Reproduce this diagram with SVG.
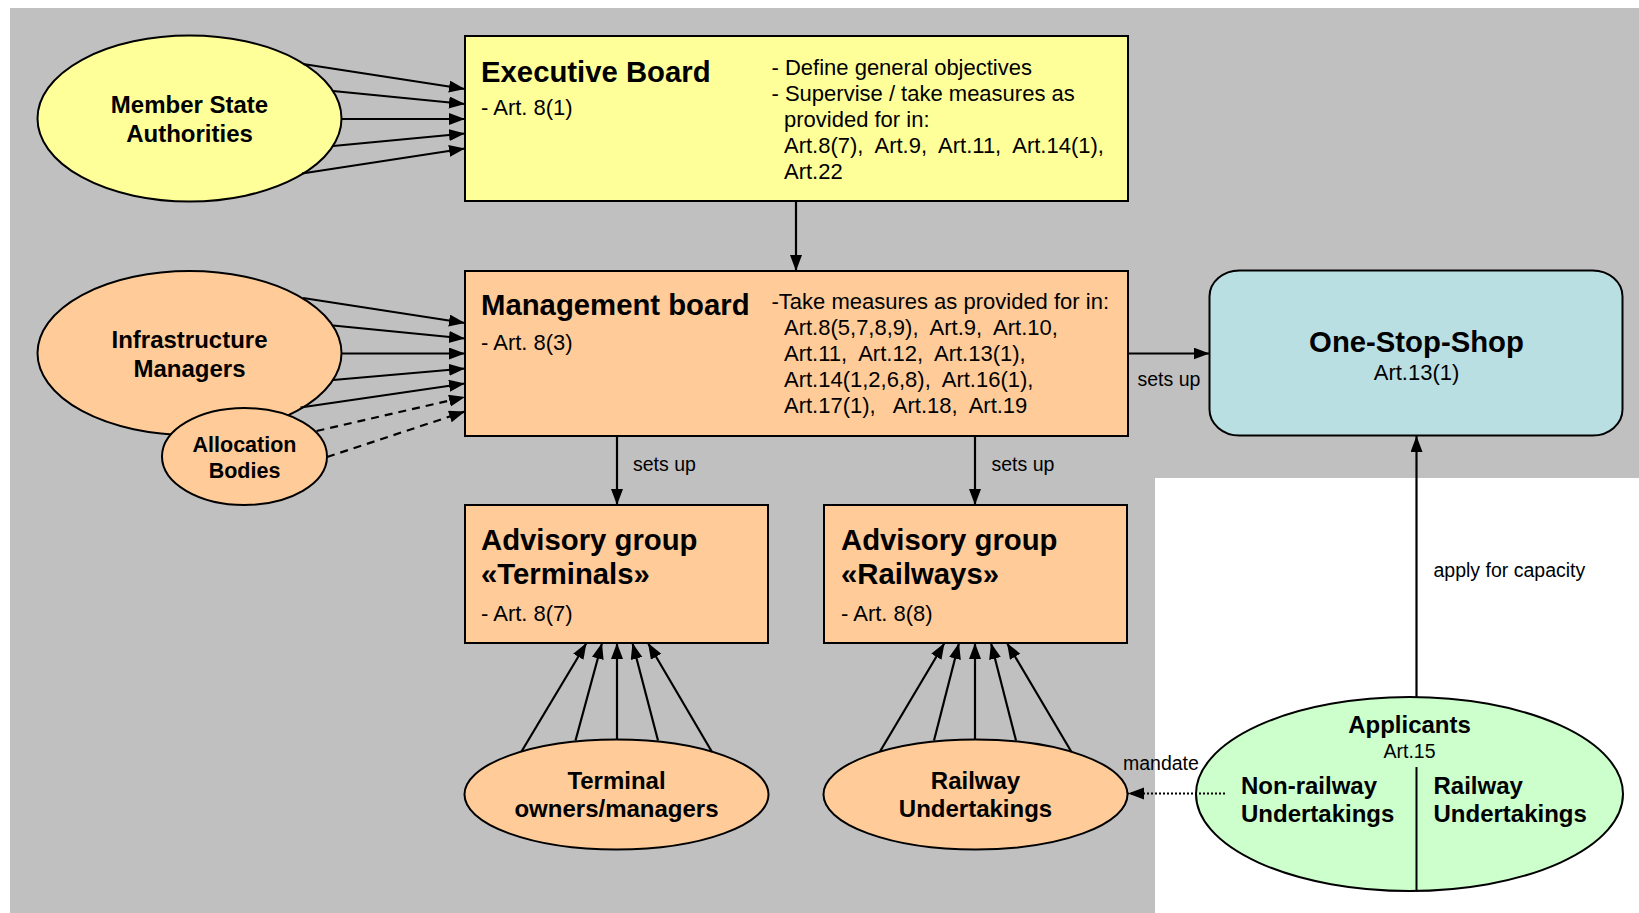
<svg xmlns="http://www.w3.org/2000/svg" width="1639" height="913" viewBox="0 0 1639 913">
  <style>
    text { font-family: "Liberation Sans", Arial, sans-serif; fill: #000; white-space: pre; }
    .title { font-size: 29.3px; font-weight: bold; }
    .body { font-size: 22px; }
    .name { font-size: 24px; font-weight: bold; text-anchor: middle; }
    .part { font-size: 24px; font-weight: bold; }
    .small { font-size: 21.5px; font-weight: bold; text-anchor: middle; }
    .lbl { font-size: 19.5px; }
    .mid { text-anchor: middle; }
    .box { stroke: #000; stroke-width: 2; }
    .yellow { fill: #ffff99; }
    .peach { fill: #ffcc99; }
    .blue { fill: #b9dfe3; }
    .green { fill: #ccffcc; }
    .edge { stroke: #000; stroke-width: 2.2; fill: none; marker-end: url(#arrow); }
    .dash { stroke-dasharray: 8 6; }
    .dot { stroke-dasharray: 2 2; }
  </style>
  <defs>
    <marker id="arrow" markerUnits="userSpaceOnUse" markerWidth="17" markerHeight="13" refX="16" refY="6" orient="auto">
      <path d="M0,0 L16,6 L0,12 Z" fill="#000"/>
    </marker>
  </defs>

  <!-- backdrop -->
  <path d="M10,8 H1639 V478 H1155 V913 H10 Z" fill="#c0c0c0"/>

  <g id="executive-board">
    <rect class="box yellow" x="465" y="36" width="663" height="165"/>
    <text class="title" x="481" y="81.5">Executive Board</text>
    <text class="body" x="481" y="114.5">- Art. 8(1)</text>
    <text class="body" x="771.5" y="75">- Define general objectives</text>
    <text class="body" x="771.5" y="101">- Supervise / take measures as</text>
    <text class="body" x="784" y="127">provided for in:</text>
    <text class="body" x="784" y="153">Art.8(7),  Art.9,  Art.11,  Art.14(1),</text>
    <text class="body" x="784" y="179">Art.22</text>
  </g>

  <g id="management-board">
    <rect class="box peach" x="465" y="271" width="663" height="165"/>
    <text class="title" x="481" y="315">Management board</text>
    <text class="body" x="481" y="349.5">- Art. 8(3)</text>
    <text class="body" x="771.5" y="308.5">-Take measures as provided for in:</text>
    <text class="body" x="784" y="334.5">Art.8(5,7,8,9),  Art.9,  Art.10,</text>
    <text class="body" x="784" y="360.5">Art.11,  Art.12,  Art.13(1),</text>
    <text class="body" x="784" y="386.5">Art.14(1,2,6,8),  Art.16(1),</text>
    <text class="body" x="784" y="412.5">Art.17(1),   Art.18,  Art.19</text>
  </g>

  <g id="one-stop-shop">
    <rect class="box blue" x="1209.5" y="270.5" width="413" height="165" rx="30" ry="26"/>
    <text class="title mid" x="1416.5" y="351.5">One-Stop-Shop</text>
    <text class="body mid" x="1416.5" y="380">Art.13(1)</text>
  </g>

  <g id="advisory-terminals">
    <rect class="box peach" x="465" y="505" width="303" height="138"/>
    <text class="title" x="481" y="550">Advisory group</text>
    <text class="title" x="481" y="583.5">«Terminals»</text>
    <text class="body" x="481" y="621">- Art. 8(7)</text>
  </g>

  <g id="advisory-railways">
    <rect class="box peach" x="824" y="505" width="303" height="138"/>
    <text class="title" x="841" y="550">Advisory group</text>
    <text class="title" x="841" y="583.5">«Railways»</text>
    <text class="body" x="841" y="621">- Art. 8(8)</text>
  </g>

  <g id="member-state-authorities">
    <ellipse class="box yellow" cx="189.5" cy="118.5" rx="152" ry="83"/>
    <text class="name" x="189.5" y="113">Member State</text>
    <text class="name" x="189.5" y="142">Authorities</text>
  </g>

  <g id="infrastructure-managers">
    <ellipse class="box peach" cx="189.5" cy="353" rx="152" ry="82"/>
    <text class="name" x="189.5" y="348">Infrastructure</text>
    <text class="name" x="189.5" y="377">Managers</text>
  </g>

  <g id="allocation-bodies">
    <ellipse class="box peach" cx="244.5" cy="456.5" rx="82.5" ry="48.5"/>
    <text class="small" x="244.5" y="451.5">Allocation</text>
    <text class="small" x="244.5" y="477.5">Bodies</text>
  </g>

  <g id="terminal-owners">
    <ellipse class="box peach" cx="616.5" cy="794.5" rx="152" ry="55"/>
    <text class="name" x="616.5" y="788.5">Terminal</text>
    <text class="name" x="616.5" y="817">owners/managers</text>
  </g>

  <g id="railway-undertakings">
    <ellipse class="box peach" cx="975.5" cy="794.5" rx="152" ry="55"/>
    <text class="name" x="975.5" y="788.5">Railway</text>
    <text class="name" x="975.5" y="817">Undertakings</text>
  </g>

  <g id="applicants">
    <ellipse class="box green" cx="1409.5" cy="794" rx="213.5" ry="97"/>
    <line x1="1416.5" y1="767" x2="1416.5" y2="891" stroke="#000" stroke-width="2"/>
    <text class="name" x="1409.5" y="733">Applicants</text>
    <text class="lbl mid" x="1409.5" y="758">Art.15</text>
    <text class="part" x="1241" y="793.5">Non-railway</text>
    <text class="part" x="1241" y="821.5">Undertakings</text>
    <text class="part" x="1433.5" y="793.5">Railway</text>
    <text class="part" x="1433.5" y="821.5">Undertakings</text>
  </g>

  <g id="connectors">
    <!-- member states to executive board -->
    <line class="edge" x1="303" y1="64" x2="465" y2="89"/>
    <line class="edge" x1="333" y1="91" x2="465" y2="104"/>
    <line class="edge" x1="341.5" y1="119" x2="465" y2="119"/>
    <line class="edge" x1="333" y1="146" x2="465" y2="133.5"/>
    <line class="edge" x1="302" y1="173.5" x2="465" y2="148.5"/>

    <!-- executive board to management board -->
    <line class="edge" x1="796" y1="201" x2="796" y2="271"/>

    <!-- infrastructure managers to management board -->
    <line class="edge" x1="303" y1="298" x2="465" y2="323"/>
    <line class="edge" x1="333" y1="325.5" x2="465" y2="338.5"/>
    <line class="edge" x1="341.5" y1="353.5" x2="465" y2="353.5"/>
    <line class="edge" x1="333" y1="380" x2="465" y2="368.5"/>
    <line class="edge" x1="300.5" y1="407.5" x2="465" y2="383.5"/>

    <!-- allocation bodies to management board -->
    <line class="edge dash" x1="316.5" y1="431" x2="465" y2="397"/>
    <line class="edge dash" x1="327" y1="457" x2="465" y2="411.5"/>

    <!-- management board sets up -->
    <line class="edge" x1="1128" y1="353.5" x2="1209.5" y2="353.5"/>
    <text class="lbl" x="1137.5" y="386">sets up</text>
    <line class="edge" x1="617" y1="436" x2="617" y2="505"/>
    <text class="lbl" x="633" y="471">sets up</text>
    <line class="edge" x1="975" y1="436" x2="975" y2="505"/>
    <text class="lbl" x="991.5" y="471">sets up</text>

    <!-- terminal owners to advisory group -->
    <line class="edge" x1="521.5" y1="751.5" x2="586.5" y2="643"/>
    <line class="edge" x1="575.5" y1="740.5" x2="602" y2="643"/>
    <line class="edge" x1="617" y1="739.5" x2="617" y2="643"/>
    <line class="edge" x1="658" y1="740.5" x2="632.5" y2="643"/>
    <line class="edge" x1="712" y1="752" x2="648" y2="643"/>

    <!-- railway undertakings to advisory group -->
    <line class="edge" x1="880" y1="751.5" x2="944.5" y2="643"/>
    <line class="edge" x1="934" y1="740.5" x2="959" y2="643"/>
    <line class="edge" x1="975" y1="739.5" x2="975" y2="643"/>
    <line class="edge" x1="1016" y1="740.5" x2="991" y2="643"/>
    <line class="edge" x1="1071.5" y1="752" x2="1007" y2="643"/>

    <!-- applicants -->
    <line class="edge" x1="1416.5" y1="697" x2="1416.5" y2="436"/>
    <text class="lbl" x="1433.5" y="577">apply for capacity</text>
    <line class="edge dot" x1="1225" y1="793.5" x2="1128" y2="793.5"/>
    <text class="lbl" x="1123" y="769.5">mandate</text>
  </g>
</svg>
